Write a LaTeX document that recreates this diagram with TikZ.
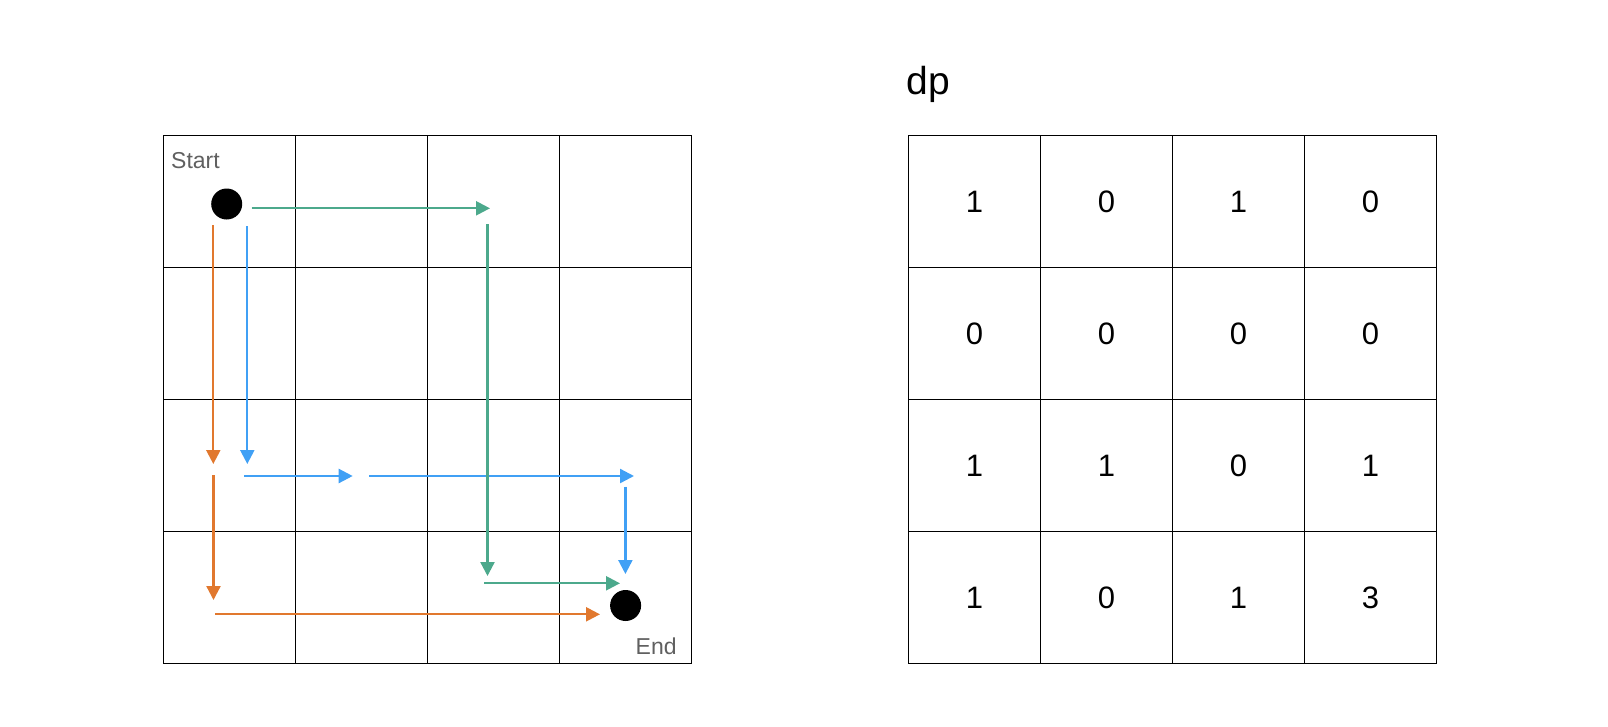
\documentclass[tikz,border=0pt]{standalone}
\usepackage{fontspec}
\setmainfont{Liberation Sans}
\usetikzlibrary{arrows.meta}
\definecolor{cOrange}{HTML}{E1782E}
\definecolor{cGreen}{HTML}{4CA98C}
\definecolor{cBlue}{HTML}{40A0F5}
\definecolor{cText}{HTML}{606060}
\tikzset{
  cell/.style={draw=black, line width=1pt, minimum size=132pt, inner sep=0pt, outer sep=0pt,
    font=\fontsize{31pt}{37pt}\selectfont},
  dot/.style={circle, fill=black, minimum size=31pt, inner sep=0pt},
  lbl/.style={text=cText, inner sep=0pt, font=\fontsize{23pt}{28pt}\selectfont},
  arr/.style={line width=2.3pt, -{Triangle[length=14pt,width=14pt]}},
  opath/.style={arr, draw=cOrange, fill=cOrange},
  gpath/.style={arr, draw=cGreen, fill=cGreen},
  bpath/.style={arr, draw=cBlue, fill=cBlue}
}
\begin{document}
\begin{tikzpicture}[x=1pt,y=-1pt]
\useasboundingbox (0,0) rectangle (1608,726);
% left grid
\foreach \r in {1,...,4}{
  \foreach \c in {1,...,4}{
    \node[cell] (L\r\c) at ({163.5+132*(\c-0.5)},{135.5+132*(\r-0.5)}) {};
  }
}
% right grid
\def\vals{{{1,0,1,0},{0,0,0,0},{1,1,0,1},{1,0,1,3}}}
\foreach \r in {1,...,4}{
  \foreach \c in {1,...,4}{
    \pgfmathsetmacro{\v}{int(\vals[\r-1][\c-1])}
    \node[cell] (R\r\c) at ({908.5+132*(\c-0.5)},{135.5+132*(\r-0.5)}) {\v};
  }
}
\node[anchor=base west, inner sep=0pt, font=\fontsize{39pt}{47pt}\selectfont] (dp) at (906.5,94) {dp};
\node[lbl, anchor=base west] (start) at (171,168.3) {Start};
\node[lbl, anchor=base west] (end) at (635.5,654) {End};
\node[dot] (S) at (226.7,204) {};
\node[dot] (E) at (625.6,605.5) {};
% coordinates
\coordinate (o1) at (213.3,225); \coordinate (o2) at (213.3,464);
\coordinate (o3) at (213.5,475); \coordinate (o4) at (213.5,600);
\coordinate (o5) at (215,614.3); \coordinate (o6) at (600,614.3);
\coordinate (b1) at (247.3,226); \coordinate (b2) at (247.3,464);
\coordinate (b3) at (244,476);   \coordinate (b4) at (352.7,476);
\coordinate (b5) at (369,476);   \coordinate (b6) at (634,476);
\coordinate (b7) at (625.4,486.5); \coordinate (b8) at (625.4,574);
\coordinate (g1) at (251.7,208.3); \coordinate (g2) at (490,208.3);
\coordinate (g3) at (487.5,224); \coordinate (g4) at (487.5,576);
\coordinate (g5) at (484,583.3); \coordinate (g6) at (620,583.3);
% orange
\draw[opath] (o1) -- (o2);
\draw[opath] (o3) -- (o4);
\draw[opath] (o5) -- (o6);
% blue
\draw[bpath] (b1) -- (b2);
\draw[bpath] (b3) -- (b4);
\draw[bpath] (b5) -- (b6);
\draw[bpath] (b7) -- (b8);
% green
\draw[gpath] (g1) -- (g2);
\draw[gpath] (g3) -- (g4);
\draw[gpath] (g5) -- (g6);
\end{tikzpicture}
\end{document}
